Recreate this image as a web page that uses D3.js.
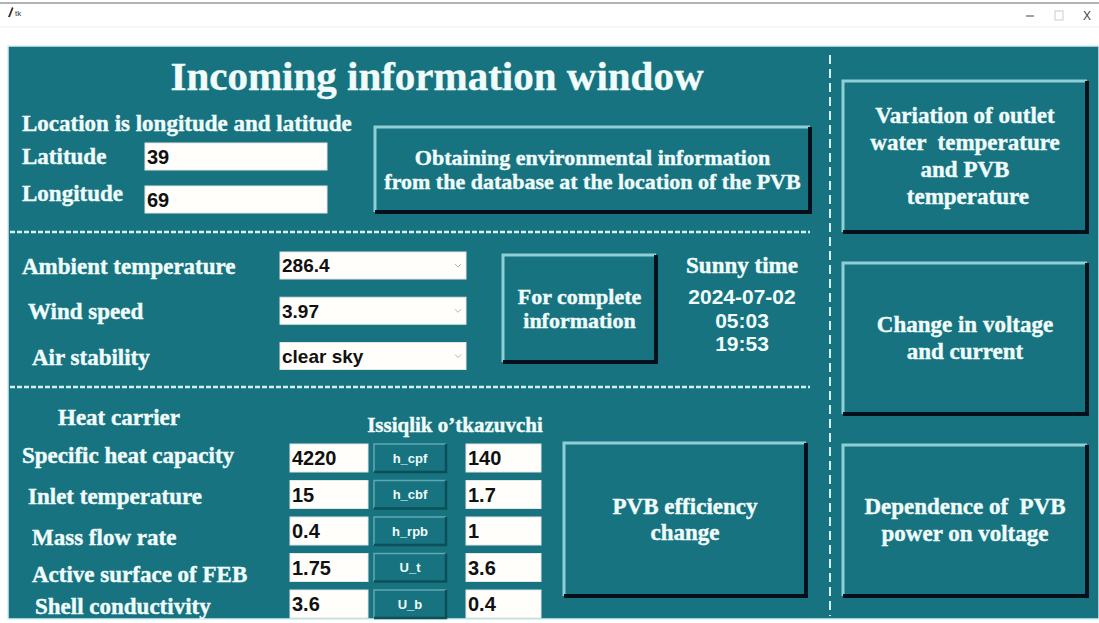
<!DOCTYPE html>
<html>
<head>
<meta charset="utf-8">
<script src="https://cdn.jsdelivr.net/npm/d3@7"></script>
<style>
body{margin:0;background:#fff;overflow:hidden}
svg{display:block}
</style>
</head>
<body>
<div id="app"></div>
<script>
var W = 1099, H = 623;
var TEAL = "#17737f", LINE = "#d4f0f2", TXT = "#f0fcfc";
var SERIF = "'Liberation Serif','Times New Roman',serif";
var SANS = "'Liberation Sans',Arial,sans-serif";

// values
var locLabels = ["Latitude", "Longitude"];
var locValues = ["39", "69"];
var envLabels = ["Ambient temperature", "Wind speed", "Air stability"];
var envValues = ["286.4", "3.97", "clear sky"];
var sunnyLines = ["2024-07-02", "05:03", "19:53"];
var heatLabels = ["Specific heat capacity", "Inlet temperature", "Mass flow rate", "Active surface of FEB", "Shell conductivity"];
var heatValues = ["4220", "15", "0.4", "1.75", "3.6"];
var coefNames = ["h_cpf", "h_cbf", "h_rpb", "U_t", "U_b"];
var coefValues = ["140", "1.7", "1", "3.6", "0.4"];
var plotButtons = [
	["Variation of outlet", "water  temperature", "and PVB", " temperature"],
	["Change in voltage", "and current"],
	["Dependence of  PVB", "power on voltage"]
];

var svg = d3.select("#app").append("svg")
	.attr("width", W).attr("height", H);

//window title bar
svg.append("rect").attr("width", W).attr("height", H).attr("fill", "#fff");
svg.append("line").attr("x1", 0).attr("x2", W).attr("y1", 3).attr("y2", 3)
	.attr("stroke", "#9a9a9a").attr("stroke-width", 1.5);
svg.append("line").attr("x1", 0).attr("x2", W).attr("y1", 27).attr("y2", 27)
	.attr("stroke", "#eeeeee").attr("stroke-width", 1);
svg.append("path").attr("d", "M8,17 L12,7 L13.5,8 L10,17 Z").attr("fill", "#333");
svg.append("text").attr("x", 15).attr("y", 16).text("tk")
	.attr("font-family", SANS).attr("font-size", 8).attr("fill", "#333");
svg.append("line").attr("x1", 1026).attr("x2", 1034).attr("y1", 16).attr("y2", 16)
	.attr("stroke", "#444").attr("stroke-width", 1);
svg.append("rect").attr("x", 1055).attr("y", 11).attr("width", 8).attr("height", 9)
	.attr("fill", "none").attr("stroke", "#ccc");
svg.append("text").attr("x", 1087).attr("y", 20).attr("text-anchor", "middle").text("X")
	.attr("font-family", SANS).attr("font-size", 12).attr("fill", "#444");

//main panel
svg.append("rect").attr("x", 8).attr("y", 46).attr("width", W - 8).attr("height", 573)
	.attr("fill", TEAL).attr("stroke", LINE).attr("stroke-width", 1.5);

// dashed separators
svg.selectAll(".hsep").data([232, 387]).enter().append("line")
	.attr("x1", 10).attr("x2", 810)
	.attr("y1", function(d) { return d; }).attr("y2", function(d) { return d; })
	.attr("stroke", LINE).attr("stroke-width", 2.5).attr("stroke-dasharray", "5,2");
svg.append("line").attr("x1", 830).attr("x2", 830).attr("y1", 55).attr("y2", 616)
	.attr("stroke", LINE).attr("stroke-width", 2).attr("stroke-dasharray", "9,5");

function label(g, x, y, t, size, anchor, fam) {
	return g.append("text").attr("x", x).attr("y", y).text(t)
		.attr("font-family", fam || SERIF).attr("font-weight", "bold")
		.attr("font-size", size).attr("fill", TXT)
		.attr("stroke", TXT).attr("stroke-width", 0.4)
		.style("white-space", "pre")
		.attr("text-anchor", anchor || "start");
}

function raised(g, x, y, w, h, bw, lt, dk) {
	g.append("rect").attr("x", x).attr("y", y).attr("width", w).attr("height", h).attr("fill", TEAL);
	g.append("path").attr("d", "M" + x + "," + (y + h) + "V" + y + "H" + (x + w))
		.attr("fill", "none").attr("stroke", lt || "#8fd0d6").attr("stroke-width", bw);
	g.append("path").attr("d", "M" + x + "," + (y + h) + "H" + (x + w) + "V" + y)
		.attr("fill", "none").attr("stroke", dk || "#02111c").attr("stroke-width", bw + 1);
}

function bigButton(x, y, w, h, lines, size, lh) {
	var g = svg.append("g");
	raised(g, x, y, w, h, 3);
	var cy = y + h / 2 - (lines.length - 1) * lh / 2;
	g.selectAll("text").data(lines).enter().append("text")
		.attr("x", x + w / 2)
		.attr("y", function(d, i) { return cy + i * lh + size * 0.32; })
		.attr("text-anchor", "middle")
		.attr("font-family", SERIF).attr("font-weight", "bold")
		.attr("font-size", size).attr("fill", TXT)
		.attr("stroke", TXT).attr("stroke-width", 0.4)
		.style("white-space", "pre")
		.text(function(d) { return d; });
}

function entry(g, x, y, w, h, val, size) {
	g.append("rect").attr("x", x).attr("y", y).attr("width", w).attr("height", h)
		.attr("fill", "#fffefb").attr("stroke", "#e6e6e6").attr("stroke-width", 1);
	g.append("text").attr("x", x + 2).attr("y", y + h / 2 + size * 0.36).text(val)
		.attr("font-family", SANS).attr("font-weight", "bold")
		.attr("font-size", size).attr("fill", "#111");
}

// title
label(svg, 437, 90, "Incoming information window", 41, "middle");

// location block
label(svg, 22, 131, "Location is longitude and latitude", 23);
var locY = d3.scalePoint().domain(locLabels).range([156, 199]);
var locLblY = [164, 201];
var locG = svg.append("g");
locLabels.forEach(function(d, i) {
	label(locG, 22, locLblY[i], d, 23);
	entry(locG, 145, locY(d) - 13, 182, 27, locValues[i], 20);
});
bigButton(375, 127, 435, 85, ["Obtaining environmental information", "from the database at the location of the PVB"], 22, 24);

// environment block
var envY = d3.scalePoint().domain(envLabels).range([265, 355.5]);
var envX = [22, 28, 32];
var envG = svg.append("g");
envLabels.forEach(function(d, i) {
	label(envG, envX[i], envY(d) + 9, d, 23);
	entry(envG, 280, envY(d) - 13, 186, 27, envValues[i], 19);
	envG.append("path")
		.attr("d", "M" + 455 + "," + (envY(d) - 1) + "l3,3l3,-3")
		.attr("fill", "none").attr("stroke", "#b5b5b5").attr("stroke-width", 1);
});
bigButton(503, 255, 153, 107, ["For complete", "information"], 22, 24);

label(svg, 742, 273, "Sunny time", 23, "middle");
var sunG = svg.append("g");
sunG.selectAll("text").data(sunnyLines).enter().append("text")
	.attr("x", 742)
	.attr("y", function(d, i) { return 304 + i * 23.5; })
	.attr("text-anchor", "middle")
	.attr("font-family", SANS).attr("font-weight", "bold")
	.attr("font-size", 21).attr("fill", TXT)
	.text(function(d) { return d; });

// heat carrier block
label(svg, 58, 425, "Heat carrier", 23);
label(svg, 455, 432, "Issiqlik o\u2019tkazuvchi", 21, "middle");
var rowY = d3.scaleLinear().domain([0, heatLabels.length - 1]).range([458, 604]);
var heatX = [22, 28, 32, 32, 35];
var lblDy = [3, 7, 12, 12, 8];
var heatG = svg.append("g");
heatLabels.forEach(function(d, i) {
	var y = rowY(i);
	label(heatG, heatX[i], y + lblDy[i] + 2, d, 23);
	entry(heatG, 290, y - 14, 78, 28, heatValues[i], 20);
	var bg = heatG.append("g");
	raised(bg, 374, y - 14, 72, 28, 1.5, "#5fa9b2", "#0b4f58");
	bg.append("text").attr("x", 410).attr("y", y + 4.5).attr("text-anchor", "middle")
		.text(coefNames[i])
		.attr("font-family", SANS).attr("font-weight", "bold")
		.attr("font-size", 13).attr("fill", TXT);
	entry(heatG, 466, y - 14, 75, 28, coefValues[i], 20);
});
bigButton(564, 443, 242, 153, ["PVB efficiency", "change"], 23, 26);

// right column buttons
var btnY = d3.scaleBand().domain(d3.range(plotButtons.length)).range([81, 596]).paddingInner(0.17);
plotButtons.forEach(function(lines, i) {
	bigButton(843, btnY(i), 244, btnY.bandwidth(), lines, 23, 27);
});
</script>
</body>
</html>
